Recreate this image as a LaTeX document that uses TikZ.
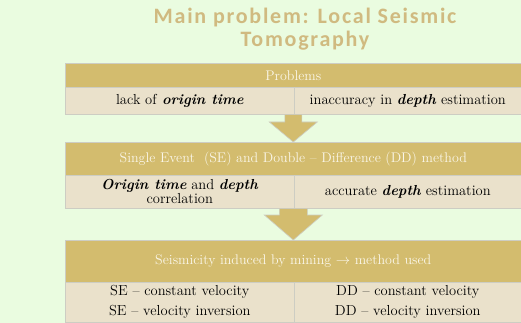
\documentclass[tikz,border=0pt]{standalone}
\usepackage{fontspec}
\newfontfamily\titlefont{Carlito}[LetterSpace=8]
\usetikzlibrary{calc}
\definecolor{bgGreen}{RGB}{234,252,224}
\definecolor{hdGold}{RGB}{211,188,110}
\definecolor{bdBeige}{RGB}{234,225,203}
\definecolor{ttlTan}{RGB}{208,186,128}
\definecolor{lnGray}{RGB}{205,205,195}
\definecolor{hdText}{RGB}{250,246,232}
\tikzset{
  ttl/.style={align=center, text=ttlTan, font=\titlefont\bfseries\fontsize{22}{23}\selectfont},
  head/.style={draw=lnGray, line width=0.6pt, fill=hdGold, text=hdText, inner sep=0pt, font=\fontsize{14}{16}\selectfont},
  cell/.style={draw=lnGray, line width=0.6pt, fill=bdBeige, inner sep=0pt, align=center, font=\fontsize{14.5}{20}\selectfont},
  arrowshape/.style={draw=lnGray, line width=0.6pt, fill=hdGold}
}
% block arrow: from, to, stem half width, head half width, head length
\newcommand\blockarrow[5]{%
  \draw[arrowshape] ($(#1)+(-#3,0)$) -- ($(#1)+(#3,0)$) -- ($(#2)+(#3,-#5)$)
    -- ($(#2)+(#4,-#5)$) -- (#2) -- ($(#2)+(-#4,-#5)$) -- ($(#2)+(-#3,-#5)$) -- cycle;}
\begin{document}
\begin{tikzpicture}[x=1pt,y=1pt,yscale=-1]
\fill[bgGreen] (0,0) rectangle (521,323);
\useasboundingbox (0,0) rectangle (521,323);

% Title
\node[ttl] (title) at (305,29) {Main problem: Local Seismic\\Tomography};

% Problems
\node[head, minimum width=456, minimum height=24, anchor=north west] (probHead) at (65,63) {Problems};
\node[cell, minimum width=229, minimum height=27, anchor=north west] (probL) at (65,87) {lack of \textbf{\textit{origin time}}};
\node[cell, minimum width=227, minimum height=27, anchor=north west] (probR) at (294,87) {inaccuracy in \textbf{\textit{depth}} estimation};

% SE and DD
\node[head, minimum width=456, minimum height=33, anchor=north west] (seHead) at (65,142) {Single Event\ \ (SE) and Double -- Difference (DD) method};
\node[cell, minimum width=229, minimum height=33, anchor=north west, font=\fontsize{14.5}{14}\selectfont] (seL) at (65,175) {\textbf{\textit{Origin time}} and \textbf{\textit{depth}}\\correlation};
\node[cell, minimum width=227, minimum height=33, anchor=north west] (seR) at (294,175) {accurate \textbf{\textit{depth}} estimation};

% Mining
\node[head, minimum width=456, minimum height=42, anchor=north west] (minHead) at (65,240) {Seismicity induced by mining $\rightarrow$ method used};
\node[cell, minimum width=229, minimum height=40, anchor=north west] (minL) at (65,282) {SE -- constant velocity\\SE -- velocity inversion};
\node[cell, minimum width=227, minimum height=40, anchor=north west] (minR) at (294,282) {DD -- constant velocity\\DD -- velocity inversion};

% Arrows
\blockarrow{seHead.north |- probL.south}{seHead.north}{8.5}{24}{20}
\blockarrow{minHead.north |- seL.south}{minHead.north}{14}{29}{25}

\end{tikzpicture}
\end{document}
